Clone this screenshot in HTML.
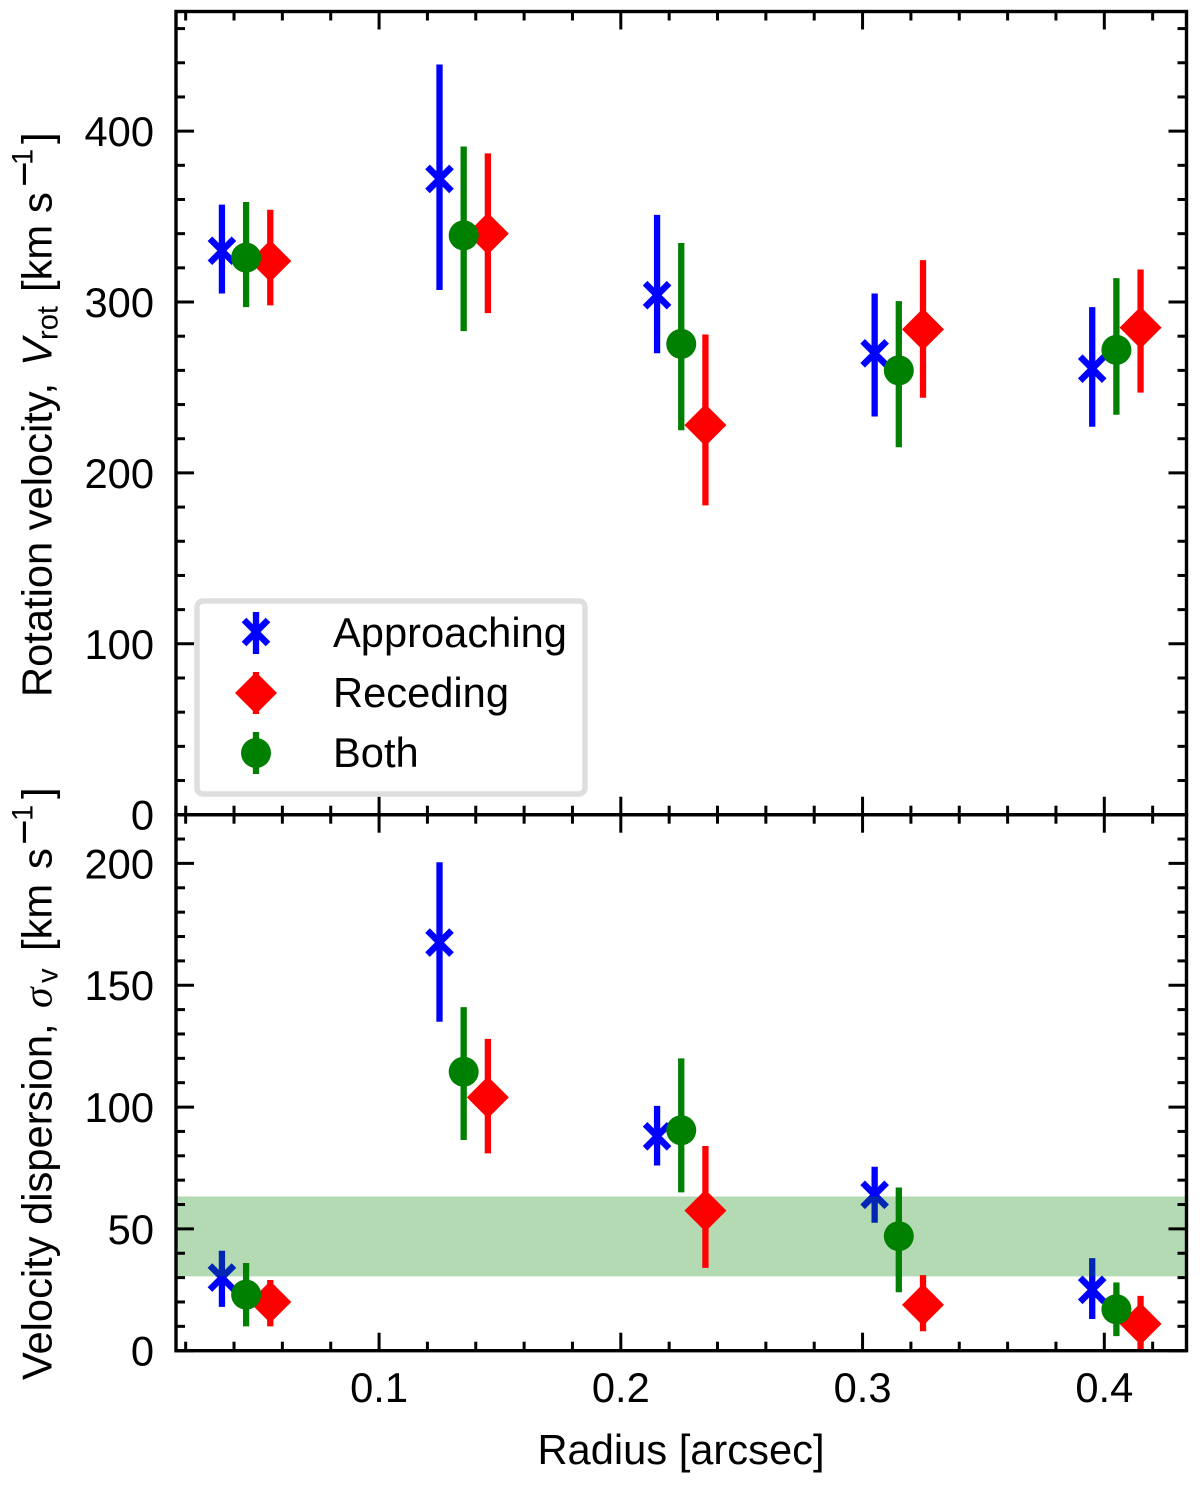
<!DOCTYPE html>
<html lang="en">
<head>
<meta charset="utf-8">
<title>Rotation velocity and velocity dispersion vs radius</title>
<style>
html,body{margin:0;padding:0;background:#fff;}
svg{display:block;}
text{font-family:"Liberation Sans",sans-serif;font-size:41.67px;fill:#000;}
</style>
</head>
<body>
<svg id="chart" xmlns="http://www.w3.org/2000/svg" width="1200" height="1485" viewBox="0 0 1200 1485">
  <rect x="0" y="0" width="1200" height="1485" fill="#fff"/>
  <g id="top-series"></g>
  <g id="bottom-series"></g>
  <g id="axes"></g>

  <g>
    <rect x="197" y="601" width="388" height="193" rx="6" ry="6" fill="#fff" fill-opacity="0.8" stroke="#dedede" stroke-width="5.5"/>
    <g>
      <path d="M256 612V654" stroke="#0000ff" stroke-width="6.3" fill="none"/>
      <path d="M244 620L268 644M244 644L268 620" stroke="#0000ff" stroke-width="6.5" fill="none"/>
      <text x="333" y="647">Approaching</text>
    </g>
    <g>
      <path d="M256 672V714" stroke="#ff0000" stroke-width="6.3" fill="none"/>
      <path d="M256 672L277 693L256 714L235 693Z" fill="#ff0000"/>
      <text x="333" y="707">Receding</text>
    </g>
    <g>
      <path d="M256 732V774" stroke="#008000" stroke-width="6.3" fill="none"/>
      <circle cx="256" cy="753" r="15" fill="#008000"/>
      <text x="333" y="767">Both</text>
    </g>
  </g>

  <text transform="translate(51.7,697) rotate(-90)"><tspan x="0">Rotation velocity,</tspan><tspan x="331" font-style="italic">V</tspan><tspan x="357" dy="6" font-size="29.17">rot</tspan><tspan x="405" dy="-6">[km</tspan><tspan x="484">s</tspan><tspan x="510" dy="-12.5" font-size="44">−</tspan><tspan x="532" dy="-6.5" font-size="29.17">1</tspan><tspan x="553" dy="19">]</tspan></text>

  <text transform="translate(51.7,1380) rotate(-90)"><tspan x="0">Velocity dispersion,</tspan><tspan x="372" font-family="'Liberation Serif',serif" font-style="italic">σ</tspan><tspan x="397" dy="6" font-size="29.17">v</tspan><tspan x="429" dy="-6">[km</tspan><tspan x="511">s</tspan><tspan x="535" dy="-12.5" font-size="44">−</tspan><tspan x="559" dy="-6.5" font-size="29.17">1</tspan><tspan x="581" dy="19">]</tspan></text>

  <text x="681" y="1464" text-anchor="middle">Radius [arcsec]</text>
</svg>

<script>
// Shared categories
const radiusApproaching = [0.035, 0.125, 0.215, 0.305, 0.395];
const radiusBoth = [0.045, 0.135, 0.225, 0.315, 0.405];
const radiusReceding = [0.055, 0.145, 0.235, 0.325, 0.415];

// Rotation velocity (km/s)
const rotApproaching = [330, 372, 304, 270, 261];
const rotApproachingHigh = [357, 439, 351, 305, 297];
const rotApproachingLow = [305, 307, 270, 233, 227];

const rotReceding = [324, 340, 228, 284, 285];
const rotRecedingHigh = [354, 387, 281, 324.5, 319];
const rotRecedingLow = [298, 293.5, 181, 244, 247];

const rotBoth = [326, 339, 275.5, 260, 272];
const rotBothHigh = [358.5, 391, 334.5, 300.5, 314];
const rotBothLow = [297, 283, 225, 215, 234];

// Velocity dispersion (km/s)
const dispApproaching = [30, 167.5, 88, 64, 25];
const dispApproachingHigh = [41, 200.5, 100.5, 75.5, 38];
const dispApproachingLow = [18, 135, 76, 52.5, 13];

const dispReceding = [20, 104, 57.5, 18.8, 11];
const dispRecedingHigh = [29, 128, 84, 31, 22.5];
const dispRecedingLow = [10, 81, 34, 8, 0.5];

const dispBoth = [23, 114.5, 90.5, 47, 17];
const dispBothHigh = [36, 141, 120, 67, 28];
const dispBothLow = [10, 86.5, 65, 24, 6];

// Shaded band in the dispersion panel
const dispBand = [30.5, 63.3];

// Axis tick values and labels
const xMajorTicks = [0.1, 0.2, 0.3, 0.4];
const xMajorLabels = ['0.1', '0.2', '0.3', '0.4'];
const xMinorTicks = [0.02, 0.04, 0.06, 0.08, 0.12, 0.14, 0.16, 0.18, 0.22, 0.24, 0.26, 0.28, 0.32, 0.34, 0.36, 0.38, 0.42];
const topMajorTicks = [0, 100, 200, 300, 400];
const topMajorLabels = ['0', '100', '200', '300', '400'];
const topMinorTicks = [20, 40, 60, 80, 120, 140, 160, 180, 220, 240, 260, 280, 320, 340, 360, 380, 420, 440, 460];
const bottomMajorTicks = [0, 50, 100, 150, 200];
const bottomMajorLabels = ['0', '50', '100', '150', '200'];
const bottomMinorTicks = [10, 20, 30, 40, 60, 70, 80, 90, 110, 120, 130, 140, 160, 170, 180, 190, 210];

const xDomain = [0.016, 0.434];
const topDomain = [0, 470];
const bottomDomain = [0, 220];

const NS = 'http://www.w3.org/2000/svg';
const LEFT = 176, RIGHT = 1186.5, TOP = 11.5, MID = 814.7, BOTTOM = 1350.7;

function xScale(v) { return LEFT + (v - xDomain[0]) * (RIGHT - LEFT) / (xDomain[1] - xDomain[0]); }
function topScale(v) { return MID - (v - topDomain[0]) * (MID - TOP) / (topDomain[1] - topDomain[0]); }
function bottomScale(v) { return BOTTOM - (v - bottomDomain[0]) * (BOTTOM - MID) / (bottomDomain[1] - bottomDomain[0]); }

function make(tag, attrs, parent) {
  const el = document.createElementNS(NS, tag);
  for (const k in attrs) el.setAttribute(k, attrs[k]);
  parent.appendChild(el);
  return el;
}

function seg(x1, y1, x2, y2, color, width, parent) {
  return make('line', { x1: x1, y1: y1, x2: x2, y2: y2, stroke: color, 'stroke-width': width }, parent);
}

function drawApproaching(xs, vals, highs, lows, yScale, parent) {
  xs.forEach(function (r, i) {
    const cx = xScale(r), cy = yScale(vals[i]);
    const g = make('g', {}, parent);
    
    
    seg(cx, yScale(highs[i]), cx, yScale(lows[i]), '#0000ff', 6.3, g);
    seg(cx - 12, cy - 12, cx + 12, cy + 12, '#0000ff', 6.5, g);
    seg(cx - 12, cy + 12, cx + 12, cy - 12, '#0000ff', 6.5, g);
  });
}

function drawReceding(xs, vals, highs, lows, yScale, parent) {
  xs.forEach(function (r, i) {
    const cx = xScale(r), cy = yScale(vals[i]);
    const g = make('g', {}, parent);
    
    
    seg(cx, yScale(highs[i]), cx, yScale(lows[i]), '#ff0000', 6.3, g);
    make('path', { d: 'M' + cx + ' ' + (cy - 21) + 'L' + (cx + 21) + ' ' + cy + 'L' + cx + ' ' + (cy + 21) + 'L' + (cx - 21) + ' ' + cy + 'Z', fill: '#ff0000' }, g);
  });
}

function drawBoth(xs, vals, highs, lows, yScale, parent) {
  xs.forEach(function (r, i) {
    const cx = xScale(r), cy = yScale(vals[i]);
    const g = make('g', {}, parent);
    
    
    seg(cx, yScale(highs[i]), cx, yScale(lows[i]), '#008000', 6.3, g);
    make('circle', { cx: cx, cy: cy, r: 15, fill: '#008000' }, g);
  });
}

const topG = document.getElementById('top-series');
drawApproaching(radiusApproaching, rotApproaching, rotApproachingHigh, rotApproachingLow, topScale, topG);
drawReceding(radiusReceding, rotReceding, rotRecedingHigh, rotRecedingLow, topScale, topG);
drawBoth(radiusBoth, rotBoth, rotBothHigh, rotBothLow, topScale, topG);

const bottomG = document.getElementById('bottom-series');
drawApproaching(radiusApproaching, dispApproaching, dispApproachingHigh, dispApproachingLow, bottomScale, bottomG);
const band = make('rect', {
  x: LEFT, width: RIGHT - LEFT,
  y: bottomScale(dispBand[1]),
  height: bottomScale(dispBand[0]) - bottomScale(dispBand[1]),
  fill: '#008000', 'fill-opacity': 0.295
}, bottomG);


drawReceding(radiusReceding, dispReceding, dispRecedingHigh, dispRecedingLow, bottomScale, bottomG);
drawBoth(radiusBoth, dispBoth, dispBothHigh, dispBothLow, bottomScale, bottomG);

const axes = document.getElementById('axes');
const TICK_W = 3;

function xTicks(values, len) {
  values.forEach(function (v) {
    const x = xScale(v);
    const t = seg(x, TOP, x, TOP + len, '#000', TICK_W, axes);
    
    
    const u = seg(x, MID - len, x, MID + len, '#000', TICK_W, axes);
    
    
    const b = seg(x, BOTTOM - len, x, BOTTOM, '#000', TICK_W, axes);
    
    
  });
}
xTicks(xMajorTicks, 18);
xTicks(xMinorTicks, 9);

function yTicks(values, yScale, len) {
  values.forEach(function (v) {
    const y = yScale(v);
    const l = seg(LEFT, y, LEFT + len, y, '#000', TICK_W, axes);
    
    
    const r = seg(RIGHT - len, y, RIGHT, y, '#000', TICK_W, axes);
    
    
  });
}
yTicks(topMajorTicks, topScale, 18);
yTicks(topMinorTicks, topScale, 9);
yTicks(bottomMajorTicks, bottomScale, 18);
yTicks(bottomMinorTicks, bottomScale, 9);

function yLabels(values, labels, yScale) {
  values.forEach(function (v, i) {
    const t = make('text', { x: 154, y: yScale(v) + 15, 'text-anchor': 'end' }, axes);
    
    
    t.textContent = labels[i];
  });
}
yLabels(topMajorTicks, topMajorLabels, topScale);
yLabels(bottomMajorTicks, bottomMajorLabels, bottomScale);

xMajorTicks.forEach(function (v, i) {
  const t = make('text', { x: xScale(v), y: 1402, 'text-anchor': 'middle' }, axes);
  
  
  t.textContent = xMajorLabels[i];
});

const frameTop = make('rect', { x: LEFT, y: TOP, width: RIGHT - LEFT, height: MID - TOP, fill: 'none', stroke: '#000', 'stroke-width': 3.4 }, axes);


const frameBottom = make('rect', { x: LEFT, y: MID, width: RIGHT - LEFT, height: BOTTOM - MID, fill: 'none', stroke: '#000', 'stroke-width': 3.4 }, axes);


</script>
</body>
</html>
